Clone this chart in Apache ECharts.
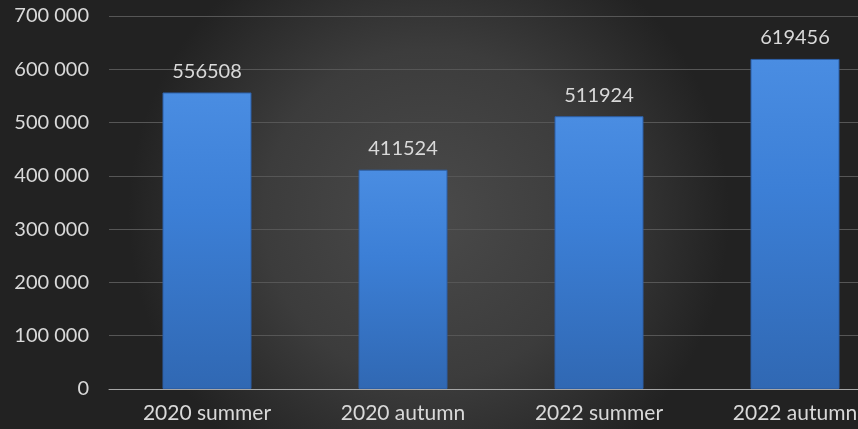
<!DOCTYPE html>
<html><head><meta charset="utf-8">
<script src="https://cdn.jsdelivr.net/npm/echarts@6/dist/echarts.min.js"></script>
<style>html,body{margin:0;padding:0;background:#2a2a2a;overflow:hidden;width:858px;height:429px}#c{width:893px;height:429px}</style>
</head><body><div id="c"></div>
<script>
const categories = ['2020 summer', '2020 autumn', '2022 summer', '2022 autumn'];
const values = [556508, 411524, 511924, 619456];
const yTicks = [0, 100000, 200000, 300000, 400000, 500000, 600000, 700000];

const chart = echarts.init(document.getElementById('c'));
const fmt = v => String(v).replace(/\B(?=(\d{3})+(?!\d))/g, ' ');
const FONT = 'Lato, "Open Sans", sans-serif';
chart.setOption({
  backgroundColor: new echarts.graphic.RadialGradient(0.48, 0.5, 0.7, [
    {offset: 0, color: '#4a4a4a'},
    {offset: 0.55, color: '#3c3c3c'},
    {offset: 1, color: '#222222'}
  ]),
  animation: false,
  grid: {left: 109, right: 0, top: 16, bottom: 40, containLabel: false},
  xAxis: {
    type: 'category', data: categories,
    axisLine: {lineStyle: {color: '#a6a6a6', width: 1}},
    axisTick: {show: false},
    axisLabel: {color: '#d9d9d9', fontSize: 21, fontFamily: FONT, margin: 14}
  },
  yAxis: {
    type: 'value', min: yTicks[0], max: yTicks[yTicks.length - 1], interval: 100000,
    axisLine: {show: false}, axisTick: {show: false},
    splitLine: {lineStyle: {color: '#565656', width: 1}},
    axisLabel: {color: '#d9d9d9', fontSize: 20, fontFamily: FONT, margin: 20, formatter: fmt}
  },
  series: [{
    type: 'bar', data: values, barWidth: 89,
    itemStyle: {
      color: new echarts.graphic.LinearGradient(0, 0, 0, 1, [
        {offset: 0, color: '#4a8de2'},
        {offset: 0.4, color: '#3c7fd6'},
        {offset: 1, color: '#3068b3'}
      ]),
      borderColor: '#2c5fa6', borderWidth: 1
    },
    label: {show: true, position: 'top', distance: 11, color: '#d9d9d9', fontSize: 20, fontFamily: FONT}
  }]
});
</script></body></html>
